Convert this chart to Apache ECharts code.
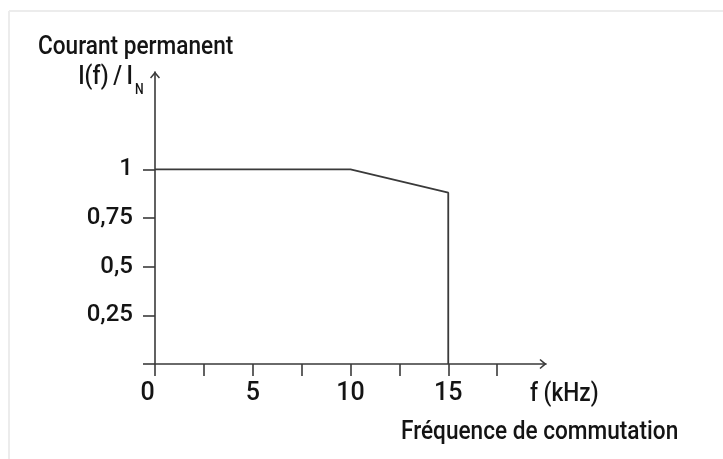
<!DOCTYPE html>
<html><head><meta charset="utf-8">
<script src="https://cdn.jsdelivr.net/npm/echarts@6/dist/echarts.min.js"></script>
<style>html,body{margin:0;padding:0;background:#fff}#c{width:723px;height:459px}</style>
</head><body><div id="c"></div>
<script>
// Data
const freq = [0, 10, 15, 15];
const current = [1, 1, 0.88, 0];
const xTicks = [0, 2.5, 5, 7.5, 10, 12.5, 15, 17.5];
const xLabels = [0, 5, 10, 15];
const yTicks = [0, 0.25, 0.5, 0.75, 1];
const yLabels = [0.25, 0.5, 0.75, 1];

const axisColor = '#3a3a3a';
const textColor = '#141414';
const fam = '"Roboto", "Liberation Sans", sans-serif';
const arrow = 'path://M0,6 L5,0 L10,6 L8.9,7 L5,2.5 L1.1,7 Z';
const sx = 0.87;

const chart = echarts.init(document.getElementById('c'), null, {renderer: 'canvas'});
chart.setOption({
  backgroundColor: '#ffffff',
  animation: false,
  grid: {left: 155, right: 177, top: 72, bottom: 95, containLabel: false, outerBoundsMode: 'none'},
  xAxis: {
    type: 'value', min: 0, max: 20, interval: 2.5,
    splitLine: {show: false},
    axisLine: {show: true, onZero: false, symbol: ['none', arrow], symbolSize: [10, 7], symbolOffset: [0, -3],
      lineStyle: {color: axisColor, width: 1.6}},
    axisTick: {show: true, inside: false, length: 12, customValues: xTicks, lineStyle: {color: axisColor, width: 1.6}},
    axisLabel: {
      show: true, customValues: xLabels, margin: 17, color: textColor, fontFamily: fam, fontSize: 25, fontWeight: 500,
      formatter: v => v === 0 ? '{z|0}' : String(v),
      rich: {z: {padding: [0, 15, 0, 0], fontFamily: fam, fontSize: 25, fontWeight: 500, color: textColor}}
    }
  },
  yAxis: {
    type: 'value', min: 0, max: 1.5, interval: 0.25,
    splitLine: {show: false},
    axisLine: {show: true, onZero: false, symbol: ['none', arrow], symbolSize: [10, 7], symbolOffset: [0, -3],
      lineStyle: {color: axisColor, width: 1.6}},
    axisTick: {show: true, inside: false, length: 12, customValues: yTicks, lineStyle: {color: axisColor, width: 1.6}},
    axisLabel: {
      show: true, customValues: yLabels, margin: 22, color: textColor, fontFamily: fam, fontSize: 24, fontWeight: 500,
      formatter: v => String(v).replace('.', ',')
    }
  },
  series: [{
    type: 'line',
    data: freq.map((f, i) => [f, current[i]]),
    symbol: 'none',
    lineStyle: {color: axisColor, width: 1.8},
    z: 3
  }],
  graphic: [
    {type: 'line', shape: {x1: 9, y1: 11, x2: 9, y2: 459}, style: {stroke: '#ececec', lineWidth: 2}, silent: true},
    {type: 'line', shape: {x1: 9, y1: 11, x2: 723, y2: 11}, style: {stroke: '#ececec', lineWidth: 2}, silent: true},
    {type: 'text', x: 38, y: 47, scaleX: sx, style: {text: 'Courant permanent', font: '500 26px ' + fam, fill: textColor, align: 'left', verticalAlign: 'middle'}},
    {type: 'text', x: 133, y: 77, scaleX: sx, style: {text: 'I(f)\u2009/\u2009I', font: '500 26px ' + fam, fill: textColor, align: 'right', verticalAlign: 'middle'}},
    {type: 'text', x: 135, y: 90, scaleX: sx, style: {text: 'N', font: '500 14px ' + fam, fill: textColor, align: 'left', verticalAlign: 'middle'}},
    {type: 'text', x: 530, y: 394, scaleX: sx, style: {text: 'f (kHz)', font: '500 26px ' + fam, fill: textColor, align: 'left', verticalAlign: 'middle'}},
    {type: 'text', x: 401, y: 432, scaleX: sx, style: {text: 'Fréquence de commutation', font: '500 26px ' + fam, fill: textColor, align: 'left', verticalAlign: 'middle'}}
  ]
});
</script>
</body></html>
